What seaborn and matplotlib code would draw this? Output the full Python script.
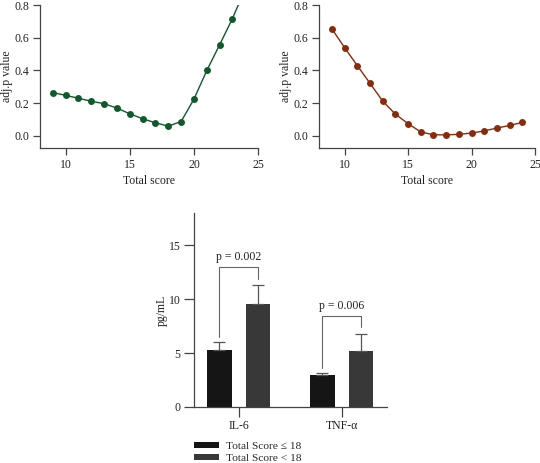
import numpy as np
import pandas as pd
import matplotlib
matplotlib.use("Agg")
import matplotlib.pyplot as plt
import seaborn as sns

sns.set_theme(style="ticks")
plt.rcParams["font.family"] = ["Liberation Serif", "DejaVu Serif"]

# --- data ---
score_left = [9, 10, 11, 12, 13, 14, 15, 16, 17, 18, 19, 20, 21, 22, 23, 24]
padj_left = [0.265, 0.248, 0.230, 0.212, 0.197, 0.170, 0.135, 0.105, 0.080,
             0.060, 0.088, 0.225, 0.400, 0.557, 0.718, 0.900]
score_right = [9, 10, 11, 12, 13, 14, 15, 16, 17, 18, 19, 20, 21, 22, 23, 24]
padj_right = [0.655, 0.540, 0.430, 0.322, 0.213, 0.133, 0.075, 0.024, 0.007,
              0.006, 0.010, 0.017, 0.031, 0.048, 0.064, 0.083]

cytokines = ["IL-6", "TNF-α"]
groups = ["Total Score ≤ 18", "Total Score < 18"]
mean_low = [5.33, 2.94]    # Total Score <= 18
mean_high = [9.60, 5.22]   # Total Score < 18
err_low = [0.67, 0.25]
err_high = [1.68, 1.56]
pvals = ["p = 0.002", "p = 0.006"]

green = "#0f5a2b"
red = "#8a2a0c"
bar_colors = ["#151515", "#383838"]
axis_col = "#444444"

fig = plt.figure(figsize=(5.4, 4.63), dpi=100)
ax1 = fig.add_axes([0.074, 0.680, 0.404, 0.309])
ax2 = fig.add_axes([0.591, 0.680, 0.400, 0.309])
ax3 = fig.add_axes([0.359, 0.121, 0.357, 0.419])


def style_axis(ax, length=5):
    sns.despine(ax=ax)
    for sp in ["left", "bottom"]:
        ax.spines[sp].set_color(axis_col)
        ax.spines[sp].set_linewidth(0.9)
    ax.tick_params(colors=axis_col, labelcolor="#222222", labelsize=8.5,
                   length=length, width=0.9, pad=2.5)


for ax, x, y, c in [(ax1, score_left, padj_left, green),
                    (ax2, score_right, padj_right, red)]:
    sns.lineplot(x=x, y=y, ax=ax, color=c, marker="o", markersize=5,
                 markeredgewidth=0, linewidth=1.0)
    ax.set_xlim(8, 25)
    ax.set_ylim(-0.075, 0.8)
    ax.set_xticks([10, 15, 20, 25])
    ax.set_yticks([0.0, 0.2, 0.4, 0.6, 0.8])
    ax.set_yticklabels(["0.0", "0.2", "0.4", "0.6", "0.8"])
    ax.set_xlabel("Total score", fontsize=8.5, color="#222222", labelpad=3)
    ax.set_ylabel("adj.p value", fontsize=8.5, color="#222222", labelpad=1.5)
    style_axis(ax)

# --- bar chart ---
df = pd.DataFrame({
    "cytokine": cytokines * 2,
    "group": [groups[0]] * 2 + [groups[1]] * 2,
    "value": mean_low + mean_high,
})
sns.barplot(data=df, x="cytokine", y="value", hue="group", hue_order=groups,
            palette=bar_colors, width=0.75, gap=0.36, errorbar=None,
            saturation=1, linewidth=0, ax=ax3)

bars = ax3.patches[:4]
tops = mean_low + mean_high
errs = err_low + err_high
centers = [b.get_x() + b.get_width() / 2 for b in bars]
ax3.errorbar(centers, tops, yerr=[np.zeros(4), errs], fmt="none",
             ecolor="#555555", elinewidth=0.9, capsize=4, capthick=0.9)

for i in range(2):
    xl, xr = centers[i], centers[i + 2]
    top_l = mean_low[i] + err_low[i]
    top_r = mean_high[i] + err_high[i]
    yh = max(top_l, top_r) + 1.7
    ax3.plot([xl, xl, xr, xr], [top_l + 0.45, yh, yh, top_r + 0.6],
             color="#666666", linewidth=0.8)
    ax3.text((xl + xr) / 2, yh + 0.35, pvals[i], ha="center", va="bottom",
             fontsize=8.5, color="#222222")

ax3.set_xlim(-0.433, 1.435)
ax3.set_ylim(0, 18)
ax3.set_yticks([0, 5, 10, 15])
ax3.set_xlabel("")
ax3.set_ylabel("pg/mL", fontsize=8.5, color="#222222", labelpad=1)
style_axis(ax3, length=7)

handles, labels = ax3.get_legend_handles_labels()
ax3.legend(handles, labels, loc="upper left", bbox_to_anchor=(-0.03, -0.15),
           frameon=False, fontsize=8.2, handlelength=2.2, handleheight=0.45,
           handletextpad=0.6, labelspacing=0.25, borderpad=0)

fig.savefig("out.png", dpi=100)
